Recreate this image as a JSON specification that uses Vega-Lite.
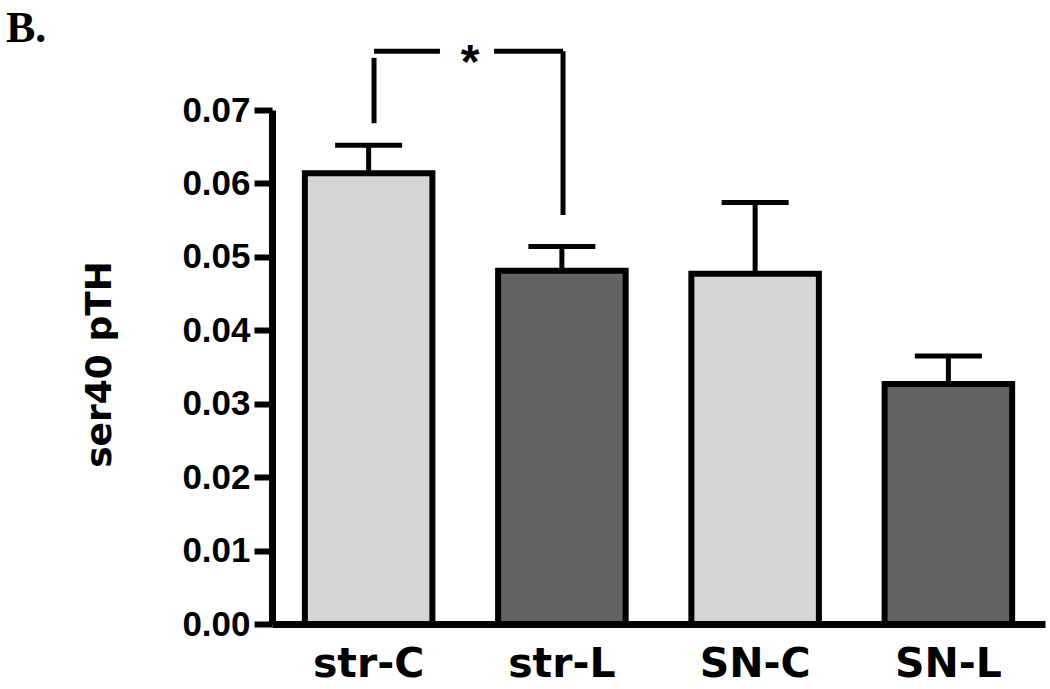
{
  "$schema": "https://vega.github.io/schema/vega-lite/v6.json",
  "autosize": {"type": "none"},
  "padding": {"left": 272, "top": 110, "right": 5, "bottom": 65},
  "width": 773,
  "height": 514,
  "background": "white",
  "title": {
    "text": "B.",
    "anchor": "start",
    "frame": "group",
    "dx": -266,
    "dy": 56,
    "font": "Liberation Serif",
    "fontWeight": "bold",
    "fontSize": 44,
    "color": "black",
    "baseline": "alphabetic",
    "offset": 10
  },
  "config": {
    "view": {"stroke": null},
    "axis": {"grid": false}
  },
  "datasets": {
    "bars": [
      {"group": "str-C", "condition": "C", "mean": 0.0614, "upper": 0.0652},
      {"group": "str-L", "condition": "L", "mean": 0.0481, "upper": 0.0514},
      {"group": "SN-C", "condition": "C", "mean": 0.0477, "upper": 0.0574},
      {"group": "SN-L", "condition": "L", "mean": 0.0327, "upper": 0.0365}
    ],
    "bracket": [
      {"x": 0.528, "x2": 0.869, "y": 0.078, "y2": 0.078},
      {"x": 1.149, "x2": 1.506, "y": 0.078, "y2": 0.078},
      {"x": 0.528, "x2": 0.528, "y": 0.0771, "y2": 0.0682},
      {"x": 1.506, "x2": 1.506, "y": 0.078, "y2": 0.0557}
    ],
    "star": [
      {"x": 1.025, "y": 0.0744, "label": "*"}
    ]
  },
  "layer": [
    {
      "data": {"name": "bars"},
      "layer": [
        {
          "mark": {"type": "bar", "stroke": "black", "strokeWidth": 6, "strokeJoin": "miter"},
          "encoding": {
            "x": {
              "field": "group", "type": "nominal", "sort": null,
              "scale": {"paddingInner": 0.34, "paddingOuter": 0.17},
              "axis": {
                "title": null, "labelAngle": 0, "ticks": false,
                "domainColor": "black", "domainWidth": 7,
                "labelFont": "DejaVu Sans", "labelFontWeight": "bold",
                "labelFontSize": 41, "labelColor": "black", "labelPadding": 20
              }
            },
            "y": {
              "field": "mean", "type": "quantitative",
              "scale": {"domain": [0, 0.07], "nice": false},
              "axis": {
                "values": [0, 0.01, 0.02, 0.03, 0.04, 0.05, 0.06, 0.07],
                "format": ".2f",
                "title": "ser40 pTH",
                "titleFont": "DejaVu Sans", "titleFontWeight": "bold",
                "titleFontSize": 36, "titleColor": "black",
                "titleAngle": -90, "titleBaseline": "alphabetic",
                "titleX": -162, "titleY": 254, "titleAlign": "center",
                "domainColor": "black", "domainWidth": 7,
                "tickColor": "black", "tickWidth": 6, "tickSize": 18,
                "labelFont": "Liberation Sans", "labelFontWeight": "bold",
                "labelFontSize": 35, "labelColor": "black", "labelPadding": 4
              }
            },
            "fill": {
              "field": "condition", "type": "nominal",
              "scale": {"domain": ["C", "L"], "range": ["#d5d5d5", "#636363"]},
              "legend": null
            }
          }
        },
        {
          "mark": {"type": "rule", "color": "black", "strokeWidth": 5},
          "encoding": {
            "x": {"field": "group", "type": "nominal", "sort": null},
            "y": {"field": "mean", "type": "quantitative"},
            "y2": {"field": "upper"}
          }
        },
        {
          "mark": {"type": "tick", "color": "black", "size": 67, "thickness": 5, "opacity": 1},
          "encoding": {
            "x": {"field": "group", "type": "nominal", "sort": null},
            "y": {"field": "upper", "type": "quantitative"}
          }
        }
      ]
    },
    {
      "layer": [
        {
          "data": {"name": "bracket"},
          "mark": {"type": "rule", "color": "black", "strokeWidth": 5},
          "encoding": {
            "x": {"field": "x", "type": "quantitative", "scale": {"domain": [0, 4], "nice": false, "zero": false}, "axis": null},
            "x2": {"field": "x2"},
            "y": {"field": "y", "type": "quantitative"},
            "y2": {"field": "y2"}
          }
        },
        {
          "data": {"name": "star"},
          "mark": {"type": "text", "font": "Liberation Sans", "fontWeight": "bold", "fontSize": 48, "color": "black", "baseline": "alphabetic", "align": "center"},
          "encoding": {
            "x": {"field": "x", "type": "quantitative", "scale": {"domain": [0, 4], "nice": false, "zero": false}, "axis": null},
            "y": {"field": "y", "type": "quantitative"},
            "text": {"field": "label"}
          }
        }
      ]
    }
  ],
  "resolve": {"scale": {"x": "independent"}}
}
